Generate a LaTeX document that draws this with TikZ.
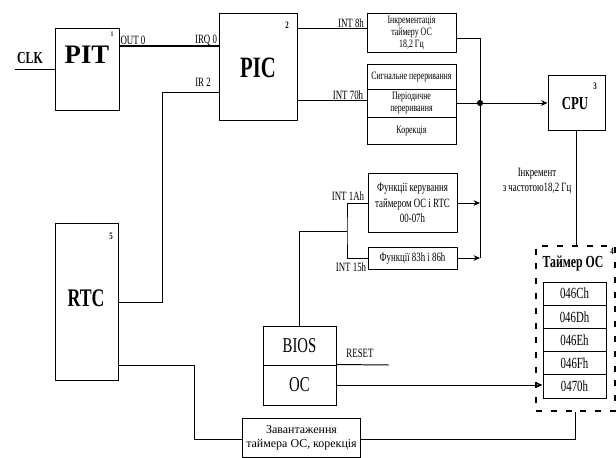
\documentclass[tikz,border=0pt]{standalone}
\usepackage{fontspec}
\setmainfont{Liberation Serif}
\newfontfamily\nrw[FakeStretch=0.7]{Liberation Serif}
\usetikzlibrary{arrows.meta,calc}
\newcommand\fsz[2]{\fontsize{#1}{#2}\selectfont}
\tikzset{
  blk/.style={
    draw=black,
    line width=0.7pt,
    inner sep=1pt,
    align=center
  },
  cell/.style={
    blk,
    minimum width=2.225cm,
    font=\nrw\fsz{8}{8.5}
  },
  reg/.style={
    blk,
    minimum width=1.575cm,
    minimum height=0.58cm,
    font=\nrw\fsz{11}{12}
  },
  tag/.style={
    inner sep=0pt,
    font=\nrw\fsz{9}{10}
  },
  num/.style={
    inner sep=0pt,
    font=\nrw\bfseries\fsz{7}{7}
  },
  wire/.style={
    line width=0.7pt
  },
  arr/.style={
    -{Stealth[length=1.6mm,width=1.4mm]},
    line width=0.7pt
  }
}

\begin{document}
\begin{tikzpicture}[x=0.025cm,y=-0.025cm]
  \useasboundingbox (0,0) rectangle (616,458);
  % blocks
  \node[blk, minimum width=1.6cm, minimum height=2.025cm] (pit) at (87,69.5) {};
  \node[inner sep=0pt, font=\bfseries\fsz{19}{20}] (pitname) at (87,55) {PIT};
  \node[num, font=\nrw\bfseries\fsz{5}{5}] (pitnum) at (112,34) {1};
  \node[blk, minimum width=1.95cm, minimum height=2.65cm] (pic) at (258,67) {};
  \node[inner sep=0pt, font=\nrw\bfseries\fsz{21}{22}] (picname) at (258,68) {PIC};
  \node[num] (picnum) at (287,25) {2};
  \node[blk, minimum width=1.575cm, minimum height=3.9cm] (rtc) at (86.5,302) {};
  \node[inner sep=0pt, font=\nrw\bfseries\fsz{18}{19}] (rtcname) at (86,298) {RTC};
  \node[num] (rtcnum) at (111,236) {5};
  \node[blk, minimum width=1.425cm, minimum height=1.35cm] (cpu) at (576.5,103) {};
  \node[inner sep=0pt, font=\nrw\bfseries\fsz{13}{14}] (cpuname) at (575,104) {CPU};
  \node[num] (cpunum) at (595,86) {3};

  % interrupt handlers
  \node[cell, minimum height=0.95cm] (ink) at (411.5,33)
    {\fsz{8}{9}Інкрементація\\таймеру ОС\\18,2 Гц};
  \node[cell, minimum height=0.625cm, font=\nrw\fsz{8}{8}] (sig) at (411.5,76.5) {Сигнальне переривання};
  \node[cell, minimum height=0.7cm] (per) at (411.5,103) {Періодичне\\переривання};
  \node[cell, minimum height=0.675cm] (kor) at (411.5,130.5) {Корекція};
  \node[cell, minimum height=1.45cm, font=\nrw\fsz{9}{11}] (fk) at (412.5,203)
    {Функції керування\\таймером ОС і RTC\\00-07h};
  \node[cell, minimum height=0.55cm, font=\nrw\fsz{9}{10}] (f83) at (412.5,258) {Функції 83h і 86h};

  % BIOS / OC
  \node[blk, minimum width=1.825cm, minimum height=0.975cm, font=\nrw\fsz{15}{16}] (bios) at (299.5,345.5) {BIOS};
  \node[blk, minimum width=1.825cm, minimum height=1cm, font=\nrw\fsz{15}{16}] (os) at (299.5,385) {OC};
  \node[blk, minimum width=2.925cm, minimum height=0.975cm, font=\fsz{8.5}{10}] (zav) at (301.5,437.5)
    {Завантаження\\таймера ОС, корекція};

  % OS timer
  \node[draw=black, line width=0.9pt, dash pattern=on 0.15cm off 0.22cm,
        minimum width=1.975cm, minimum height=4.125cm] (tmr) at (575.5,328.5) {};
  \node[inner sep=0pt, font=\nrw\bfseries\fsz{12}{13}] (tmrname) at (573,263) {Таймер ОС};
  \node[num] (tmrnum) at (612,251) {4};
  \foreach \t [count=\i] in {046Ch,046Dh,046Eh,046Fh,0470h}
    \node[reg] (r\i) at (574.5,270.4+23.2*\i) {\t};

  % labels
  \node[tag, font=\nrw\bfseries\fsz{12}{12}] (clkname) at (30,58) {CLK};
  \node[tag] (out0) at (133,40) {OUT 0};
  \node[tag] (irq0) at (206,40) {IRQ 0};
  \node[tag] (ir2) at (203,82) {IR 2};
  \node[tag] (int8) at (351,23) {INT 8h};
  \node[tag] (int70) at (348,95) {INT 70h};
  \node[tag] (int1a) at (348,196) {INT 1Ah};
  \node[tag] (int15) at (351,267) {INT 15h};
  \node[tag] (rstname) at (360,353) {RESET};
  \node[tag, align=center, font=\nrw\fsz{9}{11}] (incr) at (537,181) {Інкремент\\з частотою18,2 Гц};

  % connectors
  \coordinate (clk) at (15,69.5);
  \coordinate (bus) at (480,38);
  \coordinate (busend) at (480,258);
  \coordinate (dot) at (480,103);
  \coordinate (brn) at (347,231);
  \coordinate (rst) at (389,365);
  \draw[wire] (clk) -- (pit.west);
  \draw[line width=1.1pt] (pit.east |- 0,46) -- (pic.west |- 0,46);
  \draw[wire] (pic.west |- 0,92) -- (162,92) |- (rtc.east |- 0,302);
  \draw[wire] (rtc.east |- 0,365) -| (194,439) -- (zav.west |- 0,439);
  \draw[wire] (zav.east |- 0,439) -| (tmr.south);
  \draw[wire] (pic.east |- 0,28) -- (ink.west |- 0,28);
  \draw[wire] (pic.east |- 0,100) -- (per.west |- 0,100);
  \draw[wire] (ink.east |- bus) -- (bus) -- (busend);
  \draw[wire] (per.east) -- (dot);
  \fill (dot) circle[radius=2.2pt];
  \draw[arr] (dot) -- (cpu.west);
  \draw[wire] (cpu.south) -- (cpu.south |- tmr.north);
  \draw[arr] (fk.east) -- (fk.east -| bus);
  \draw[arr] (f83.east) -- (f83.east -| bus);
  \draw[wire] (fk.west) -| (brn) |- (f83.west);
  \draw[wire] (bios.north) |- (brn);
  \draw[wire] (os.north east) -- (rst);
  \draw[arr] (os.east) -- (os.east -| r5.west);
\end{tikzpicture}
\end{document}
